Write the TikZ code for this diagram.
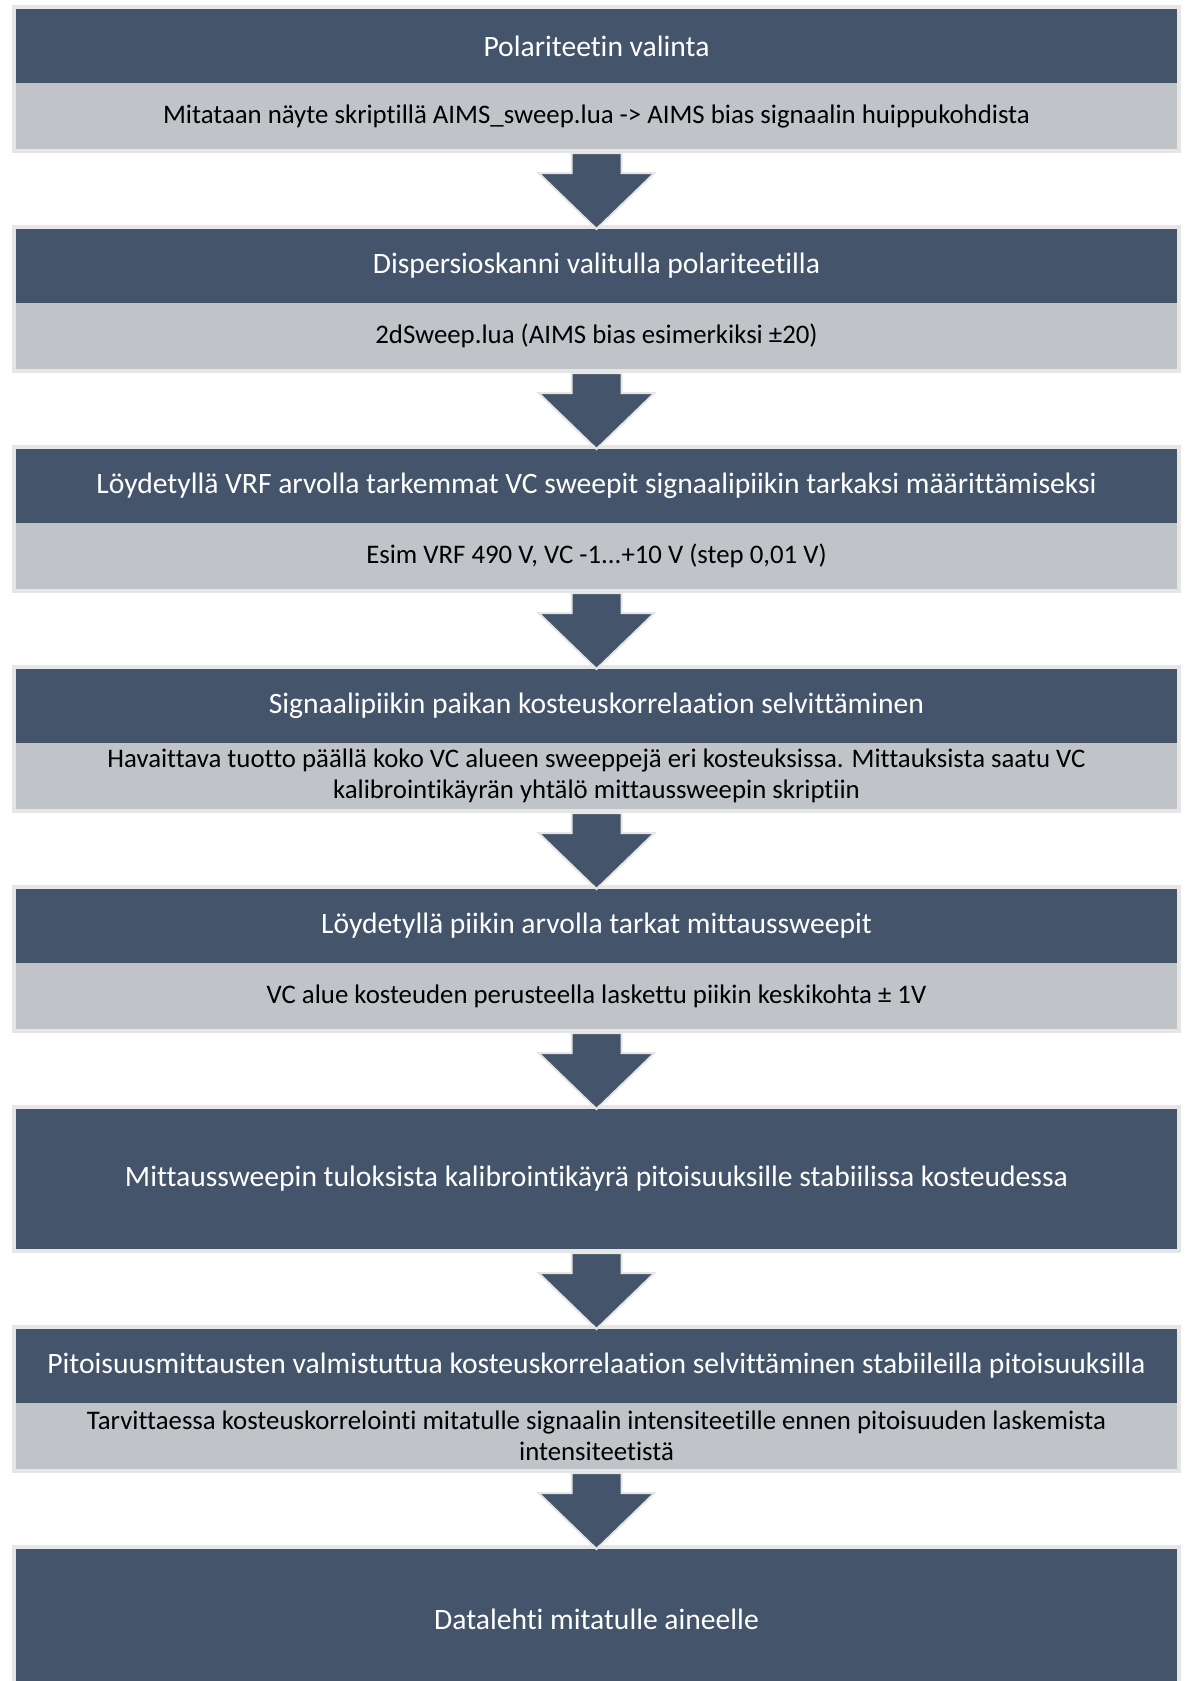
\documentclass[tikz,border=0pt]{standalone}
\usepackage{fontspec}
\setmainfont{Carlito}[Ligatures=NoCommon]
\usetikzlibrary{
calc,
positioning,
}
\definecolor{slate}{HTML}{44546A}
\definecolor{band}{HTML}{C0C3C8}
\definecolor{rim}{HTML}{E6E6E6}
\tikzset{
node distance=40pt,
outer sep=0pt,
every node/.style={align=center},
head/.style={rectangle, fill=slate, text=white, minimum width=580.5pt,
  minimum height=37pt, font=\fontsize{14.8}{17.8}\selectfont},
tall/.style={head, minimum height=70pt},
body/.style={rectangle, fill=band, text=black, minimum width=580.5pt,
  minimum height=33pt, inner sep=1pt, font=\fontsize{13.4}{15.5}\selectfont},
frame/.style={draw=rim, line width=2pt},
flow/.style={fill=slate, draw=rim, line width=1pt, to path={
  let \p1=(\tikztostart), \p2=(\tikztotarget) in
  (\x1-12.5pt,\y1-2pt) -- (\x1-12.5pt,\y2+28pt) -- (\x1-29pt,\y2+28pt)
  -- (\x2,\y2) -- (\x1+29pt,\y2+28pt) -- (\x1+12.5pt,\y2+28pt)
  -- (\x1+12.5pt,\y1-2pt) -- cycle}},
}

\begin{document}
\begin{tikzpicture}
\useasboundingbox (0,0) rectangle (592pt,-840.5pt);
% steps
\node (pol) [head, anchor=north west] at (8pt,-4.5pt) {Polariteetin valinta};
\node (polb) [body, below=0pt of pol] {Mitataan näyte skriptillä AIMS\_sweep.lua -> AIMS bias signaalin huippukohdista};
\node (disp) [head, below=of polb] {Dispersioskanni valitulla polariteetilla};
\node (dispb) [body, below=0pt of disp] {2dSweep.lua (AIMS bias esimerkiksi ±20)};
\node (vc) [head, below=of dispb] {Löydetyllä VRF arvolla tarkemmat VC sweepit signaalipiikin tarkaksi määrittämiseksi};
\node (vcb) [body, below=0pt of vc] {Esim VRF 490 V, VC -1...+10 V (step 0,01 V)};
\node (kost) [head, below=of vcb] {Signaalipiikin paikan kosteuskorrelaation selvittäminen};
\node (kostb) [body, below=0pt of kost] {Havaittava tuotto päällä koko VC alueen sweeppejä eri kosteuksissa. Mittauksista saatu VC\\kalibrointikäyrän yhtälö mittaussweepin skriptiin};
\node (mitt) [head, below=of kostb] {Löydetyllä piikin arvolla tarkat mittaussweepit};
\node (mittb) [body, below=0pt of mitt] {VC alue kosteuden perusteella laskettu piikin keskikohta ± 1V};
\node (kal) [tall, below=of mittb] {Mittaussweepin tuloksista kalibrointikäyrä pitoisuuksille stabiilissa kosteudessa};
\node (pit) [head, below=of kal] {Pitoisuusmittausten valmistuttua kosteuskorrelaation selvittäminen stabiileilla pitoisuuksilla};
\node (pitb) [body, below=0pt of pit] {Tarvittaessa kosteuskorrelointi mitatulle signaalin intensiteetille ennen pitoisuuden laskemista\\intensiteetistä};
\node (data) [tall, below=of pitb] {Datalehti mitatulle aineelle};
% rims
\foreach \t/\b in {pol/polb, disp/dispb, vc/vcb, kost/kostb, mitt/mittb, kal/kal, pit/pitb, data/data}
  \draw [frame] ([shift={(-1pt,1pt)}]\t.north west) rectangle ([shift={(1pt,-1pt)}]\b.south east);
% arrows
\foreach \a/\b in {polb/disp, dispb/vc, vcb/kost, kostb/mitt, mittb/kal, kal/pit, pitb/data}
  \draw [flow] (\a.south) to (\b.north);
\end{tikzpicture}
\end{document}
